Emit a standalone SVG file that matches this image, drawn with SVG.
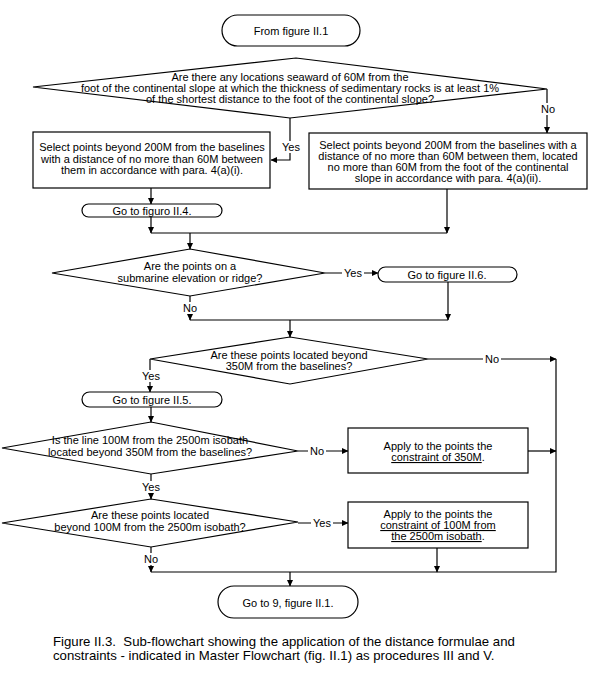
<svg xmlns="http://www.w3.org/2000/svg" width="606" height="698" viewBox="0 0 606 698">
<defs>
<marker id="ah" markerWidth="7" markerHeight="7" refX="6" refY="3.5" orient="auto" markerUnits="userSpaceOnUse">
<path d="M0,0.5 L6.5,3.5 L0,6.5 Z" fill="#000"/>
</marker>
<style>
text{font-family:"Liberation Sans",Arial,sans-serif;font-size:11px;fill:#000;text-anchor:middle}
.shape{fill:#fff;stroke:#000;stroke-width:1.2}
.ln{fill:none;stroke:#000;stroke-width:1.2}
.arr{marker-end:url(#ah)}
.lbl{fill:#fff;stroke:none}
.cap{font-size:13.2px;text-anchor:start;white-space:pre}
.u{text-decoration:underline}
</style>
</defs>
<rect width="606" height="698" fill="#fff"/>

<g id="connectors">
<path class="ln arr" d="M547,89 V133"/>
<path class="ln arr" d="M290,118 V160 H271"/>
<path class="ln arr" d="M151,188 V204"/>
<path class="ln arr" d="M151,217 V233"/>
<path class="ln arr" d="M447,189 V233"/>
<path class="ln" d="M151,233 H447"/>
<path class="ln arr" d="M190,233 V249"/>
<path class="ln arr" d="M325,273 H378"/>
<path class="ln arr" d="M190,296 V320"/>
<path class="ln arr" d="M448,282 V320"/>
<path class="ln" d="M190,320 H448"/>
<path class="ln arr" d="M290,320 V337"/>
<path class="ln arr" d="M428,359 H556"/>
<path class="ln arr" d="M150,359 V392"/>
<path class="ln arr" d="M151,407 V422"/>
<path class="ln arr" d="M298,451 H348"/>
<path class="ln arr" d="M528,451 H556"/>
<path class="ln" d="M556,359 V572 H151"/>
<path class="ln arr" d="M151,474 V499"/>
<path class="ln arr" d="M298,523 H348"/>
<path class="ln arr" d="M437,548 V572"/>
<path class="ln arr" d="M151,547 V572"/>
<path class="ln arr" d="M290,572 V586"/>
<rect class="lbl" x="541" y="103" width="14" height="12"/><text x="548" y="113">No</text>
<rect class="lbl" x="281" y="141" width="20" height="12"/><text x="291" y="151">Yes</text>
<rect class="lbl" x="342" y="267" width="22" height="12"/><text x="353" y="277">Yes</text>
<rect class="lbl" x="183" y="302" width="14" height="12"/><text x="190" y="312">No</text>
<rect class="lbl" x="483" y="353" width="18" height="12"/><text x="492" y="363">No</text>
<rect class="lbl" x="140" y="370" width="22" height="12"/><text x="151" y="380">Yes</text>
<rect class="lbl" x="308" y="445" width="18" height="12"/><text x="317" y="455">No</text>
<rect class="lbl" x="140" y="481" width="22" height="12"/><text x="151" y="491">Yes</text>
<rect class="lbl" x="311" y="517" width="22" height="12"/><text x="322" y="527">Yes</text>
<rect class="lbl" x="144" y="553" width="14" height="12"/><text x="151" y="563">No</text>
</g>

<g id="start">
<rect class="shape" x="222" y="15" width="138" height="31" rx="15.5"/>
<text x="291" y="35">From figure II.1</text>
</g>

<g id="decision1">
<polygon class="shape" points="33,87 296,58 547,89 290,118"/>
<text x="290" y="80.5">Are there any locations seaward of 60M from the</text>
<text x="290" y="91.5">foot of the continental slope at which the thickness of sedimentary rocks is at least 1%</text>
<text x="290" y="102.5">of the shortest distance to the foot of the continental slope?</text>
</g>

<g id="box1">
<rect class="shape" x="33" y="132" width="237" height="56"/>
<text x="152" y="151">Select points beyond 200M from the baselines</text>
<text x="152" y="162.5">with a distance of no more than 60M between</text>
<text x="152" y="174">them in accordance with para. 4(a)(i).</text>
</g>

<g id="box2">
<rect class="shape" x="309" y="133" width="278" height="56"/>
<text x="448" y="148.5">Select points beyond 200M from the baselines with a</text>
<text x="448" y="159.5">distance of no more than 60M between them, located</text>
<text x="448" y="170.5">no more than 60M from the foot of the continental</text>
<text x="448" y="181.5">slope in accordance with para. 4(a)(ii).</text>
</g>

<g id="goto4">
<rect class="shape" x="82" y="204" width="140" height="13" rx="6.5"/>
<text x="152" y="214.5">Go to figuro II.4.</text>
</g>

<g id="decision2">
<polygon class="shape" points="52,273 190,249 325,273 190,296"/>
<text x="190" y="270">Are the points on a</text>
<text x="190" y="281.5">submarine elevation or ridge?</text>
</g>

<g id="goto6">
<rect class="shape" x="378" y="267" width="139" height="15" rx="7.5"/>
<text x="447" y="278.5">Go to figure II.6.</text>
</g>

<g id="decision3">
<polygon class="shape" points="150,359 290,337 428,359 290,384"/>
<text x="289" y="359">Are these points located beyond</text>
<text x="289" y="370">350M from the baselines?</text>
</g>

<g id="goto5">
<rect class="shape" x="82" y="392" width="140" height="15" rx="7.5"/>
<text x="152" y="403.5">Go to figure II.5.</text>
</g>

<g id="decision4">
<polygon class="shape" points="2,448 151,422 298,451 151,474"/>
<text x="150" y="444">Is the line 100M from the 2500m isobath</text>
<text x="150" y="455.5">located beyond 350M from the baselines?</text>
</g>

<g id="box350">
<rect class="shape" x="348" y="428" width="180" height="45"/>
<text x="438" y="450">Apply to the points the</text>
<text x="438" y="461"><tspan class="u">constraint of 350M</tspan>.</text>
</g>

<g id="decision5">
<polygon class="shape" points="2,523 151,499 298,522 151,547"/>
<text x="150" y="519">Are these points located</text>
<text x="150" y="531">beyond 100M from the 2500m isobath?</text>
</g>

<g id="box100">
<rect class="shape" x="348" y="502" width="180" height="46"/>
<text x="438" y="518">Apply to the points the</text>
<text x="438" y="529"><tspan class="u">constraint of 100M from</tspan></text>
<text x="438" y="540"><tspan class="u">the 2500m isobath</tspan>.</text>
</g>

<g id="end">
<rect class="shape" x="218" y="586" width="140" height="32" rx="16"/>
<text x="288" y="607">Go to 9, figure II.1.</text>
</g>

<g id="caption">
<text class="cap" x="53" y="646" xml:space="preserve">Figure II.3.  Sub-flowchart showing the application of the distance formulae and</text>
<text class="cap" x="53" y="660">constraints - indicated in Master Flowchart (fig. II.1) as procedures III and V.</text>
</g>
</svg>
